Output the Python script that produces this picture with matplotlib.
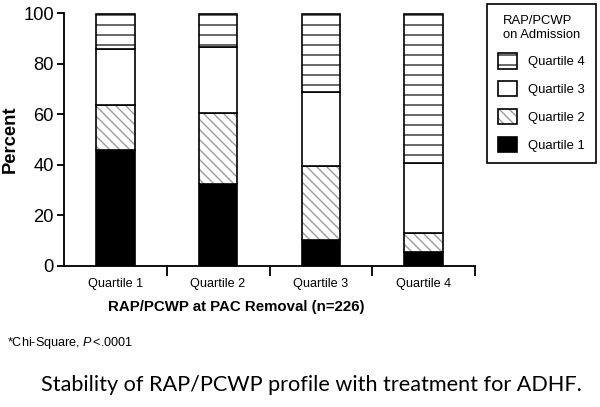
import numpy as np
import matplotlib
matplotlib.use("Agg")
import matplotlib.pyplot as plt
from matplotlib.patches import Patch

# categories (PAC removal quartile) and stacked shares (admission quartile), percent
categories = ["Quartile 1", "Quartile 2", "Quartile 3", "Quartile 4"]
q1 = [45.8, 32.6, 10.3, 5.6]
q2 = [18.0, 27.7, 29.3, 7.3]
q3 = [22.0, 26.3, 29.2, 28.0]
q4 = [13.7, 12.9, 30.7, 58.6]
series_names = ["Quartile 1", "Quartile 2", "Quartile 3", "Quartile 4"]

plt.rcParams['font.family'] = ['Liberation Sans', 'DejaVu Sans']
plt.rcParams['hatch.linewidth'] = 0.8
plt.rcParams['mathtext.fontset'] = 'custom'
plt.rcParams['mathtext.rm'] = 'Liberation Sans'
plt.rcParams['mathtext.it'] = 'Liberation Sans:italic'

DPI = 120
fig = plt.figure(figsize=(600 / DPI, 407 / DPI), dpi=DPI)
ax = fig.add_axes([64 / 600, 1 - 266 / 407, (475 - 64) / 600, (266 - 13) / 407])

x = np.arange(len(categories))
w = 0.377
# (face, hatch, hatch colour) per series
styles = [("black", "", "black"),
          ("white", "\\\\\\\\", "#9a9a9a"),
          ("white", "", "black"),
          ("white", "--", "#222222")]

bottom = np.zeros(len(categories))
for vals, (fc, hatch, hc) in zip([q1, q2, q3, q4], styles):
    vals = np.array(vals)
    ax.bar(x, vals, w, bottom=bottom, color=fc, edgecolor=hc, hatch=hatch, linewidth=0)
    ax.bar(x, vals, w, bottom=bottom, fill=False, edgecolor="black", linewidth=1.0)
    bottom += vals

ax.set_xlim(-0.5, 3.5)
ax.set_ylim(0, 100)
ax.spines["top"].set_visible(False)
ax.spines["right"].set_visible(False)
ax.spines["left"].set_linewidth(1.1)
ax.spines["bottom"].set_linewidth(1.1)

ax.set_yticks([0, 20, 40, 60, 80, 100])
ax.tick_params(axis="y", length=4, width=1.1, labelsize=11, pad=2)
ax.set_xticks([0.5, 1.5, 2.5, 3.5])
ax.set_xticklabels([])
ax.tick_params(axis="x", which="major", length=6, width=1.1)
ax.set_xticks(x, minor=True)
ax.set_xticklabels(categories, minor=True)
ax.tick_params(axis="x", which="minor", length=0, labelsize=7.6, pad=7)

fig.text(10.5 / 600, 1 - 139 / 407, "Percent", rotation=90, ha="center", va="center",
         fontsize=11, fontweight="bold")
fig.text(236 / 600, 1 - 307 / 407, "RAP/PCWP at PAC Removal (n=226)", ha="center", va="center",
         fontsize=9, fontweight="bold")
fig.text(7 / 600, 1 - 343 / 407, "*Chi-Square, $\\it{P}\\,$<.0001", ha="left", va="center", fontsize=7.6)
fig.text(311 / 600, 1 - 385 / 407, "Stability of RAP/PCWP profile with treatment for ADHF.",
         ha="center", va="center", fontsize=13, family=["Lato", "DejaVu Sans"])

# legend, top entry first
handles = []
for fc, hatch, hc in styles[::-1]:
    handles.append((Patch(facecolor=fc, edgecolor=hc, hatch=hatch, linewidth=0),
                    Patch(fill=False, edgecolor="black", linewidth=1.0)))
leg = fig.legend(handles, series_names[::-1], title="RAP/PCWP\non Admission",
                 loc="upper right", bbox_to_anchor=(596 / 600, 1 - 4 / 407),
                 fontsize=7.8, title_fontsize=7.8, handlelength=1.45, handleheight=1.45,
                 labelspacing=0.95, handletextpad=0.85, borderpad=0.85, borderaxespad=0,
                 fancybox=False, framealpha=1, edgecolor="black")
leg.get_frame().set_linewidth(1.0)

fig.savefig("out.png", dpi=DPI)
